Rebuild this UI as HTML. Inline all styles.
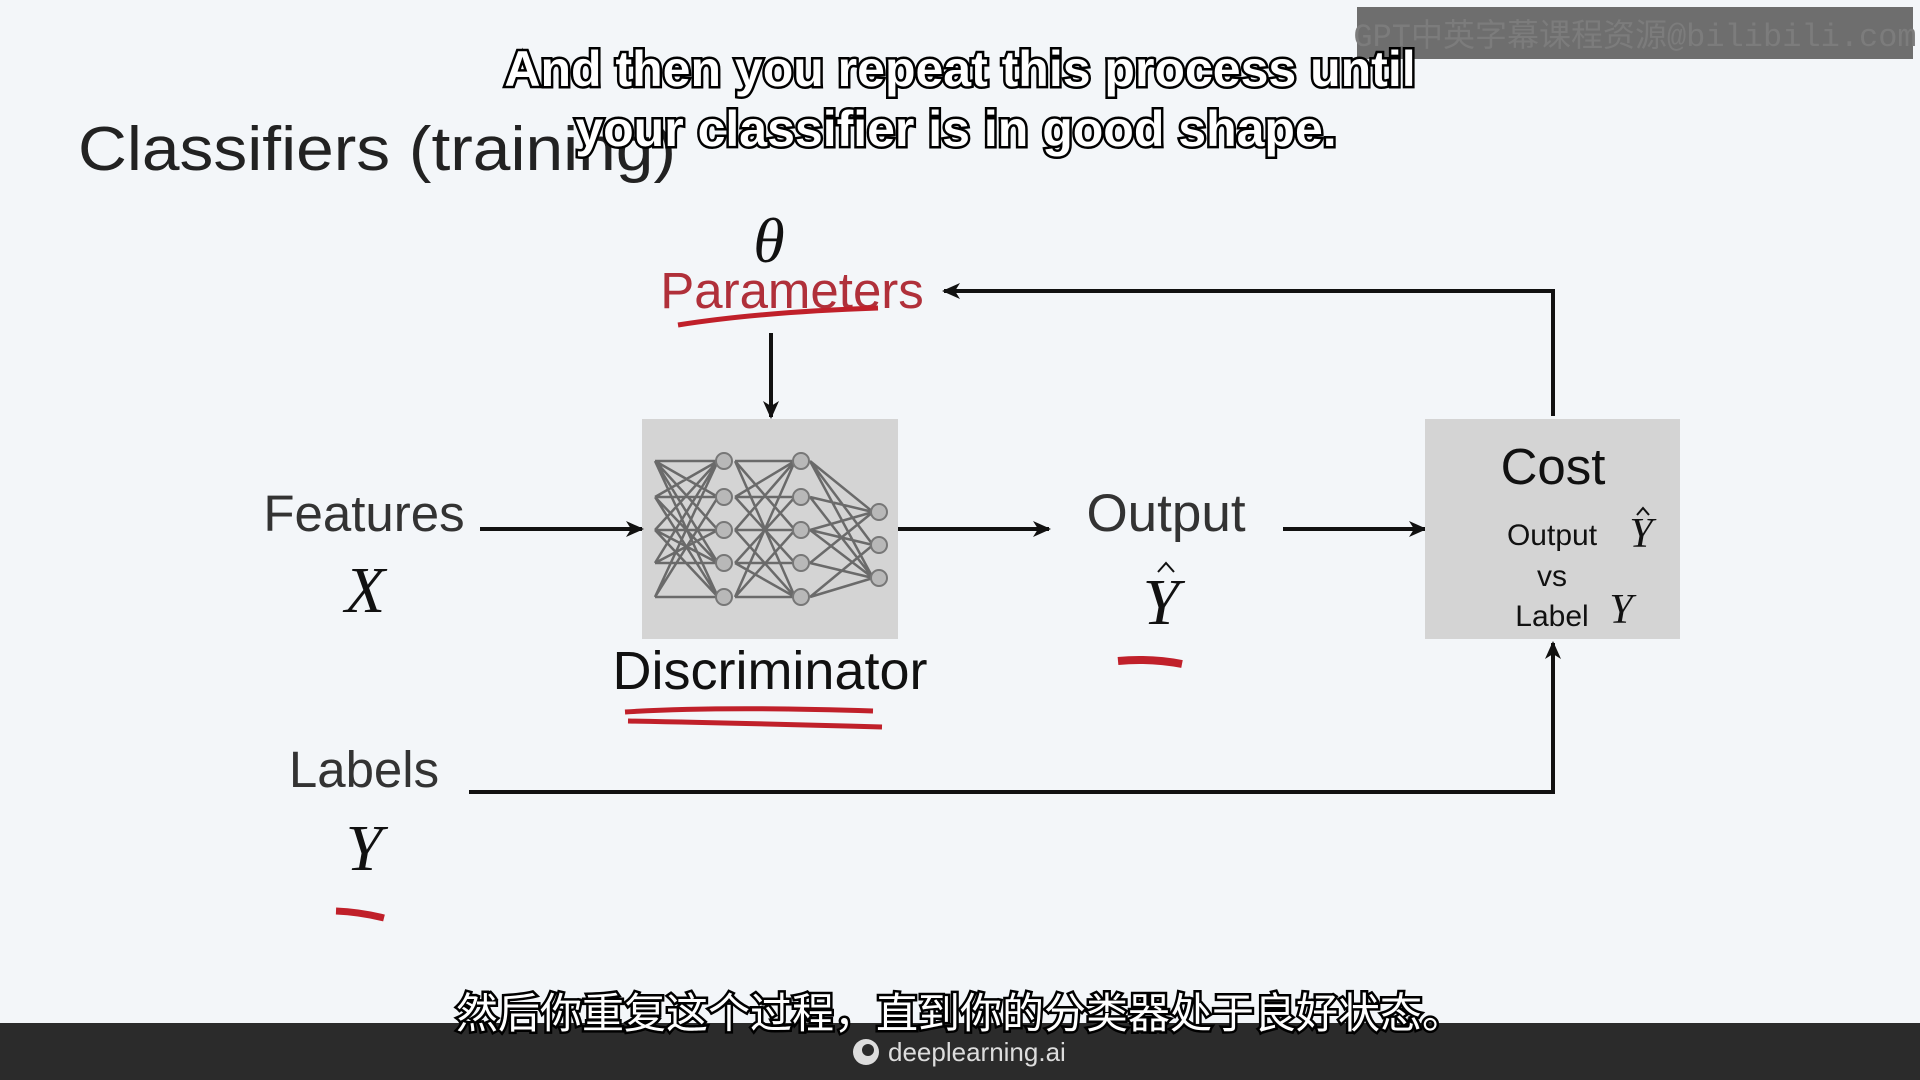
<!DOCTYPE html>
<html><head><meta charset="utf-8"><style>
html,body{margin:0;padding:0;}
body{width:1920px;height:1080px;overflow:hidden;background:#f3f6f9;position:relative;font-family:"Liberation Sans","Noto Sans CJK SC",sans-serif;}
svg{position:absolute;left:0;top:0;}
.sub{font-family:"Liberation Sans","Noto Sans CJK SC",sans-serif;font-weight:bold;fill:#fff;stroke:#000;stroke-width:5;paint-order:stroke;}
</style></head><body>
<svg width="1920" height="1080" viewBox="0 0 1920 1080">
<defs>
<marker id="ah" markerWidth="18" markerHeight="16" refX="16" refY="8" orient="auto" markerUnits="userSpaceOnUse" viewBox="0 0 18 16">
<path d="M0,0 L18,8 L0,16 L5,8 Z" fill="#111"/></marker>
</defs>
<rect x="1357" y="7" width="556" height="52" fill="#6e6e6e"/>
<text x="1635" y="46" font-size="32" fill="#7c7c7c" text-anchor="middle" font-family="Liberation Mono,Noto Sans CJK SC,monospace">GPT中英字幕课程资源@bilibili.com</text>
<text x="78" y="170" font-size="62" fill="#222" textLength="598" lengthAdjust="spacingAndGlyphs">Classifiers (training)</text>
<text x="769" y="262" font-size="64" font-style="italic" font-family="Liberation Serif,serif" text-anchor="middle" fill="#111">θ</text>
<text x="792" y="308" font-size="51" fill="#b0303a" text-anchor="middle">Parameters</text>
<path d="M678,325 Q760,312 878,308" stroke="#c0202a" stroke-width="5" fill="none"/>
<polyline points="1553,416 1553,291 944,291" fill="none" stroke="#111" stroke-width="4" marker-end="url(#ah)"/>
<line x1="771" y1="333" x2="771" y2="417" stroke="#111" stroke-width="4" marker-end="url(#ah)"/>
<rect x="642" y="419" width="256" height="220" fill="#d4d4d4"/>
<g stroke="#6a6a6a" stroke-width="2.5" fill="none">
<path d="M655,461 L718,461 M655,497 L718,497 M655,530 L718,530 M655,563 L718,563 M655,597 L718,597
M655,461 L718,497 M655,461 L718,530 M655,461 L718,563 M655,497 L718,461 M655,497 L718,563 M655,497 L718,597 M655,530 L718,461 M655,530 L718,597 M655,563 L718,461 M655,563 L718,530 M655,597 L718,497 M655,597 L718,461 M655,530 L718,563 M655,461 L718,597
M735,461 L795,461 M735,497 L795,497 M735,530 L795,530 M735,563 L795,563 M735,597 L795,597 M735,461 L795,530 M735,461 L795,597 M735,497 L795,563 M735,530 L795,461 M735,530 L795,597 M735,563 L795,497 M735,597 L795,461 M735,597 L795,530 M735,497 L795,461 M735,563 L795,597
M810,461 L873,512 M810,461 L873,545 M810,497 L873,512 M810,497 L873,578 M810,530 L873,512 M810,530 L873,545 M810,530 L873,578 M810,563 L873,512 M810,563 L873,578 M810,597 L873,545 M810,597 L873,578 M810,461 L873,578"/>
</g>
<g fill="#b8b8b8" stroke="#777" stroke-width="2">
<circle cx="724" cy="461" r="8"/><circle cx="724" cy="497" r="8"/><circle cx="724" cy="530" r="8"/><circle cx="724" cy="563" r="8"/><circle cx="724" cy="597" r="8"/>
<circle cx="801" cy="461" r="8"/><circle cx="801" cy="497" r="8"/><circle cx="801" cy="530" r="8"/><circle cx="801" cy="563" r="8"/><circle cx="801" cy="597" r="8"/>
<circle cx="879" cy="512" r="8"/><circle cx="879" cy="545" r="8"/><circle cx="879" cy="578" r="8"/>
</g>
<text x="364" y="531" font-size="51" fill="#333" text-anchor="middle">Features</text>
<text x="365" y="612" font-size="66" font-style="italic" font-family="Liberation Serif,serif" text-anchor="middle" fill="#111">X</text>
<line x1="480" y1="529" x2="642" y2="529" stroke="#111" stroke-width="4" marker-end="url(#ah)"/>
<line x1="898" y1="529" x2="1049" y2="529" stroke="#111" stroke-width="4" marker-end="url(#ah)"/>
<text x="1166" y="531" font-size="53" fill="#333" text-anchor="middle">Output</text>
<text x="1161" y="624" font-size="66" font-style="italic" font-family="Liberation Serif,serif" text-anchor="middle" fill="#111">Y</text>
<path d="M1158,572 L1166,563 L1174,572" stroke="#111" stroke-width="2" fill="none"/>
<path d="M1118,661 Q1150,658 1182,664" stroke="#c0202a" stroke-width="8" fill="none"/>
<line x1="1283" y1="529" x2="1425" y2="529" stroke="#111" stroke-width="4" marker-end="url(#ah)"/>
<rect x="1425" y="419" width="255" height="220" fill="#d4d4d4"/>
<text x="1553" y="484" font-size="51" fill="#111" text-anchor="middle">Cost</text>
<text x="1552" y="545" font-size="30" fill="#111" text-anchor="middle">Output</text>
<text x="1641" y="547" font-size="42" font-style="italic" font-family="Liberation Serif,serif" text-anchor="middle" fill="#111">Y</text>
<path d="M1637,515 L1643,508 L1649,515" stroke="#111" stroke-width="2" fill="none"/>
<text x="1552" y="586" font-size="30" fill="#111" text-anchor="middle">vs</text>
<text x="1552" y="626" font-size="30" fill="#111" text-anchor="middle">Label</text>
<text x="1621" y="623" font-size="42" font-style="italic" font-family="Liberation Serif,serif" text-anchor="middle" fill="#111">Y</text>
<text x="770" y="689" font-size="54" fill="#111" text-anchor="middle">Discriminator</text>
<path d="M625,712 Q720,706 873,711 M628,721 Q740,723 882,727" stroke="#c0202a" stroke-width="5" fill="none"/>
<text x="364" y="787" font-size="51" fill="#333" text-anchor="middle">Labels</text>
<text x="364" y="870" font-size="66" font-style="italic" font-family="Liberation Serif,serif" text-anchor="middle" fill="#111">Y</text>
<path d="M336,911 Q360,912 384,918" stroke="#c0202a" stroke-width="7" fill="none"/>
<polyline points="469,792 1553,792 1553,643" fill="none" stroke="#111" stroke-width="4" marker-end="url(#ah)"/>
<text x="960" y="86" font-size="50" class="sub" text-anchor="middle">And then you repeat this process until</text>
<text x="956" y="146" font-size="50" class="sub" text-anchor="middle">your classifier is in good shape.</text>
<rect x="0" y="1023" width="1920" height="57" fill="#2b2b2b"/>
<text x="960" y="1028" font-size="42" class="sub" text-anchor="middle" style="font-weight:normal">然后你重复这个过程，直到你的分类器处于良好状态。</text>
<circle cx="866" cy="1052" r="13" fill="#ddd"/><circle cx="868" cy="1050" r="6" fill="#2b2b2b"/>
<text x="888" y="1061" font-size="26" fill="#ddd">deeplearning.ai</text>
</svg>
</body></html>
